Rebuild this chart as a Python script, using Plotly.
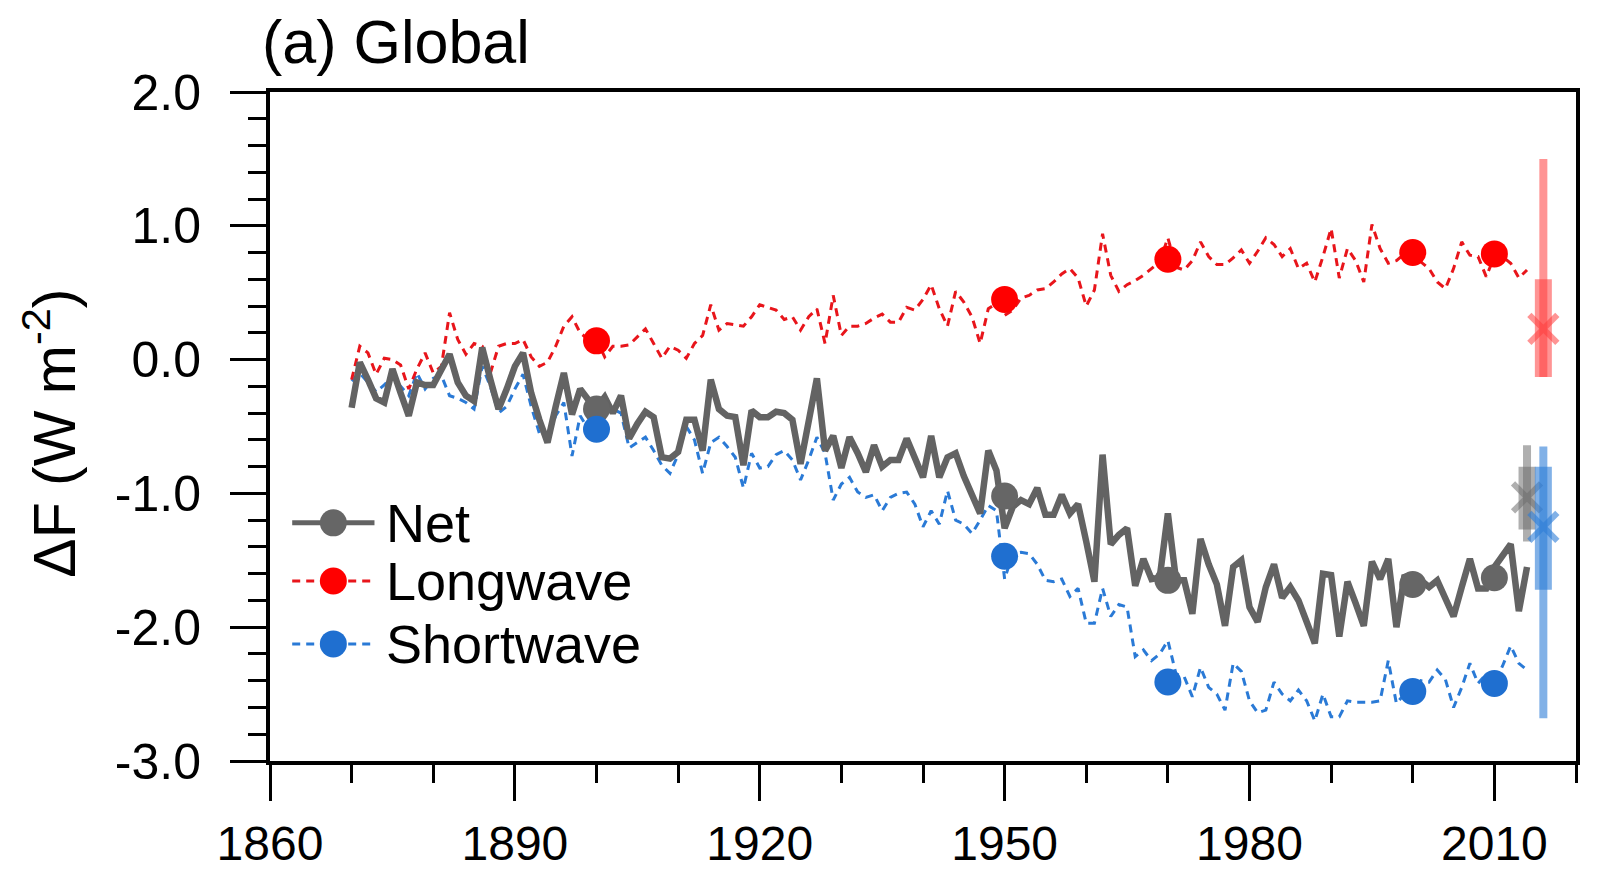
import plotly.graph_objects as go

# ---------------- data ----------------
years = list(range(1870, 2015))

net = [
    -0.36, -0.02, -0.15, -0.29, -0.32, -0.07, -0.25, -0.42, -0.17, -0.19,
    -0.19, -0.08, 0.04, -0.17, -0.27, -0.31, 0.09, -0.15, -0.37, -0.22,
    -0.05, 0.05, -0.25, -0.45, -0.62, -0.35, -0.10, -0.41, -0.22, -0.30,
    -0.36, -0.28, -0.40, -0.27, -0.59, -0.48, -0.39, -0.43, -0.73, -0.74,
    -0.69, -0.45, -0.45, -0.68, -0.15, -0.37, -0.42, -0.43, -0.79, -0.38,
    -0.43, -0.43, -0.39, -0.40, -0.45, -0.78, -0.45, -0.14, -0.68, -0.57,
    -0.81, -0.58, -0.70, -0.84, -0.64, -0.80, -0.75, -0.75, -0.59, -0.73,
    -0.88, -0.57, -0.88, -0.73, -0.70, -0.87, -1.00, -1.15, -0.68, -0.83,
    -1.26, -1.10, -1.05, -1.08, -0.96, -1.16, -1.16, -1.01, -1.15, -1.08,
    -1.36, -1.66, -0.71, -1.38, -1.31, -1.26, -1.69, -1.49, -1.64, -1.63,
    -1.15, -1.65, -1.65, -1.90, -1.34, -1.53, -1.68, -1.99, -1.55, -1.50,
    -1.85, -1.96, -1.70, -1.53, -1.78, -1.70, -1.80, -1.95, -2.12, -1.60,
    -1.61, -2.07, -1.66, -1.82, -1.99, -1.51, -1.64, -1.49, -2.00, -1.61,
    -1.69, -1.65, -1.70, -1.65, -1.79, -1.92, -1.70, -1.49, -1.71, -1.71,
    -1.55, -1.47, -1.38, -1.88, -1.55,
]

longwave = [
    -0.15, 0.10, 0.05, -0.11, 0.01, 0.00, -0.04, -0.22, -0.07, 0.05,
    -0.10, -0.05, 0.35, 0.15, 0.04, 0.12, 0.10, -0.10, 0.10, 0.12,
    0.12, 0.15, 0.02, -0.05, -0.02, 0.10, 0.25, 0.32, 0.20, 0.15,
    0.15, 0.02, 0.10, 0.10, 0.11, 0.17, 0.23, 0.12, 0.01, 0.10,
    0.07, 0.01, 0.12, 0.18, 0.41, 0.22, 0.27, 0.26, 0.25, 0.32,
    0.41, 0.39, 0.37, 0.30, 0.32, 0.22, 0.32, 0.38, 0.12, 0.48,
    0.18, 0.25, 0.25, 0.27, 0.31, 0.34, 0.28, 0.28, 0.39, 0.37,
    0.45, 0.56, 0.38, 0.25, 0.51, 0.43, 0.32, 0.12, 0.38, 0.42,
    0.33, 0.37, 0.46, 0.48, 0.52, 0.53, 0.58, 0.64, 0.68, 0.61,
    0.40, 0.52, 0.94, 0.63, 0.51, 0.56, 0.59, 0.63, 0.68, 0.73,
    0.91, 0.69, 0.67, 0.74, 0.88, 0.77, 0.71, 0.71, 0.76, 0.82,
    0.72, 0.81, 0.91, 0.86, 0.77, 0.83, 0.68, 0.72, 0.58, 0.77,
    0.98, 0.61, 0.83, 0.74, 0.58, 1.01, 0.83, 0.72, 0.74, 0.79,
    0.76, 0.73, 0.68, 0.58, 0.53, 0.68, 0.88, 0.78, 0.77, 0.62,
    0.77, 0.77, 0.72, 0.61, 0.67,
]

shortwave = [
    -0.16, -0.10, -0.17, -0.24, -0.19, -0.12, -0.20, -0.27, -0.10, -0.22,
    -0.14, -0.12, -0.27, -0.29, -0.32, -0.37, -0.05, -0.20, -0.40, -0.35,
    -0.22, -0.11, -0.35, -0.55, -0.60, -0.42, -0.32, -0.72, -0.42, -0.52,
    -0.52, -0.40, -0.37, -0.40, -0.66, -0.62, -0.58, -0.68, -0.79, -0.85,
    -0.71, -0.50, -0.60, -0.85, -0.62, -0.58, -0.65, -0.73, -0.96, -0.70,
    -0.81, -0.80, -0.71, -0.68, -0.75, -0.90, -0.75, -0.58, -0.70, -1.05,
    -0.93, -0.88, -0.99, -1.03, -1.01, -1.13, -1.03, -1.00, -0.99, -1.08,
    -1.25, -1.13, -1.23, -0.98, -1.20, -1.23, -1.30, -1.20, -1.09, -1.13,
    -1.64, -1.45, -1.44, -1.45, -1.53, -1.65, -1.66, -1.64, -1.77, -1.71,
    -1.97, -1.97, -1.71, -1.92, -1.83, -1.85, -2.22, -2.17, -2.25, -2.20,
    -2.10, -2.35, -2.37, -2.52, -2.30, -2.45, -2.50, -2.62, -2.27, -2.33,
    -2.55, -2.64, -2.62, -2.41, -2.50, -2.55, -2.47, -2.55, -2.70, -2.50,
    -2.67, -2.67, -2.55, -2.56, -2.56, -2.56, -2.55, -2.25, -2.57, -2.50,
    -2.52, -2.40, -2.41, -2.32, -2.39, -2.60, -2.45, -2.27, -2.42, -2.35,
    -2.42, -2.29, -2.14, -2.27, -2.32,
]

mean_years = [1900, 1950, 1970, 2000, 2010]
net_mean = [-0.37, -1.02, -1.65, -1.68, -1.63]
lw_mean = [0.14, 0.45, 0.75, 0.80, 0.79]
sw_mean = [-0.52, -1.47, -2.41, -2.48, -2.42]

# estimate ranges at right edge (Net, Longwave, Shortwave)
est_x = [2014, 2016, 2016]
est_center = [-1.03, 0.23, -1.25]
est_thin_lo = [-1.36, -0.13, -2.68]
est_thin_hi = [-0.64, 1.50, -0.65]
est_thick_lo = [-1.27, -0.13, -1.72]
est_thick_hi = [-0.80, 0.60, -0.80]

series_names = ["Net", "Longwave", "Shortwave"]
x_ticks = [1860, 1890, 1920, 1950, 1980, 2010]
y_ticks = [-3, -2, -1, 0, 1, 2]
y_ticktext = ["-3.0", "-2.0", "-1.0", "0.0", "1.0", "2.0"]

# ---------------- styles ----------------
FONT = "Liberation Sans, Arial, Helvetica, sans-serif"
C_NET = "#666666"
C_LW = "#ff0000"
C_SW = "#1f6fd0"
C_NET_LINE = "#636363"
C_LW_LINE = "#e8151b"
C_SW_LINE = "#2a7ad6"
EST_COLS = ["rgba(110,110,110,0.55)", "rgba(255,60,60,0.55)", "rgba(45,125,215,0.6)"]
DASH = "8px,6px"

fig = go.Figure()

# time series lines
fig.add_trace(go.Scatter(x=years, y=shortwave, mode="lines",
                         line=dict(color=C_SW_LINE, width=3, dash=DASH),
                         showlegend=False))
fig.add_trace(go.Scatter(x=years, y=longwave, mode="lines",
                         line=dict(color=C_LW_LINE, width=3, dash=DASH),
                         showlegend=False))
fig.add_trace(go.Scatter(x=years, y=net, mode="lines",
                         line=dict(color=C_NET_LINE, width=6.5),
                         showlegend=False))

# period-mean markers
for yv, col in [(net_mean, C_NET), (lw_mean, C_LW), (sw_mean, C_SW)]:
    fig.add_trace(go.Scatter(x=mean_years, y=yv, mode="markers",
                             marker=dict(color=col, size=27, line=dict(width=0)),
                             showlegend=False))

# right-edge estimate bars
for i in range(3):
    fig.add_trace(go.Scatter(x=[est_x[i], est_x[i]], y=[est_thin_lo[i], est_thin_hi[i]],
                             mode="lines", line=dict(color=EST_COLS[i], width=8),
                             showlegend=False))
    fig.add_trace(go.Scatter(x=[est_x[i], est_x[i]], y=[est_thick_lo[i], est_thick_hi[i]],
                             mode="lines", line=dict(color=EST_COLS[i], width=17),
                             showlegend=False))
    fig.add_trace(go.Scatter(x=[est_x[i]], y=[est_center[i]], mode="markers",
                             marker=dict(symbol="x-thin", size=28, color=EST_COLS[i],
                                         line=dict(color=EST_COLS[i], width=6)),
                             showlegend=False))

# custom legend drawn on an overlay axis in paper-like units
leg_x0, leg_x1, leg_xm = 0.017, 0.080, 0.0485
leg_rows = [0.356, 0.269, 0.175]
leg_text_x = 0.087
leg_styles = [
    (C_NET, dict(color=C_NET_LINE, width=5)),
    (C_LW, dict(color=C_LW_LINE, width=3, dash=DASH)),
    (C_SW, dict(color=C_SW_LINE, width=3, dash=DASH)),
]
for (mcol, lstyle), ry in zip(leg_styles, leg_rows):
    fig.add_trace(go.Scatter(x=[leg_x0, leg_x1], y=[ry, ry], mode="lines",
                             line=lstyle, xaxis="x2", yaxis="y2", showlegend=False))
    fig.add_trace(go.Scatter(x=[leg_xm], y=[ry], mode="markers",
                             marker=dict(color=mcol, size=27), xaxis="x2", yaxis="y2",
                             showlegend=False))

annotations = []
for name, ry in zip(series_names, leg_rows):
    annotations.append(dict(text=name, x=leg_text_x, y=ry, xref="paper", yref="paper",
                            xanchor="left", yanchor="middle", showarrow=False,
                            font=dict(family=FONT, size=54, color="black")))
annotations.append(dict(text="(a) Global", x=-0.008, y=1.075, xref="paper", yref="paper",
                        xanchor="left", yanchor="middle", showarrow=False,
                        font=dict(family=FONT, size=61, color="black")))
annotations.append(dict(text="ΔF (W m<sup>-2</sup>)", x=-0.168, y=0.49, xref="paper",
                        yref="paper", xanchor="center", yanchor="middle", showarrow=False,
                        textangle=-90, font=dict(family=FONT, size=59, color="black")))

# page body has an 8px margin, so the figure is 8px smaller than the window
fig.update_layout(
    width=1600, height=863,
    margin=dict(l=262, r=32, t=84, b=110, autoexpand=False),
    paper_bgcolor="white", plot_bgcolor="white",
    showlegend=False,
    annotations=annotations,
    xaxis=dict(range=[1860, 2020], tickmode="array", tickvals=x_ticks,
               ticktext=[str(v) for v in x_ticks], automargin=False,
               ticks="outside", ticklen=36, tickwidth=3, tickcolor="black",
               minor=dict(tickmode="linear", tick0=1860, dtick=10, ticks="outside",
                          ticklen=18, tickwidth=3, tickcolor="black", showgrid=False),
               showline=True, linewidth=4, linecolor="black", mirror=True,
               showgrid=False, zeroline=False, ticklabelstandoff=1,
               tickfont=dict(family=FONT, size=48, color="black")),
    yaxis=dict(range=[-3, 2], tickmode="array", tickvals=y_ticks, ticktext=y_ticktext,
               automargin=False,
               ticks="outside", ticklen=36, tickwidth=3, tickcolor="black",
               minor=dict(tickmode="linear", tick0=-3, dtick=0.2, ticks="outside",
                          ticklen=18, tickwidth=3, tickcolor="black", showgrid=False),
               showline=True, linewidth=4, linecolor="black", mirror=True,
               showgrid=False, zeroline=False, ticklabelstandoff=19,
               tickfont=dict(family=FONT, size=50, color="black")),
    xaxis2=dict(range=[0, 1], overlaying="x", visible=False, anchor="y2"),
    yaxis2=dict(range=[0, 1], overlaying="y", visible=False, anchor="x2"),
)

fig.write_html("out.html")
